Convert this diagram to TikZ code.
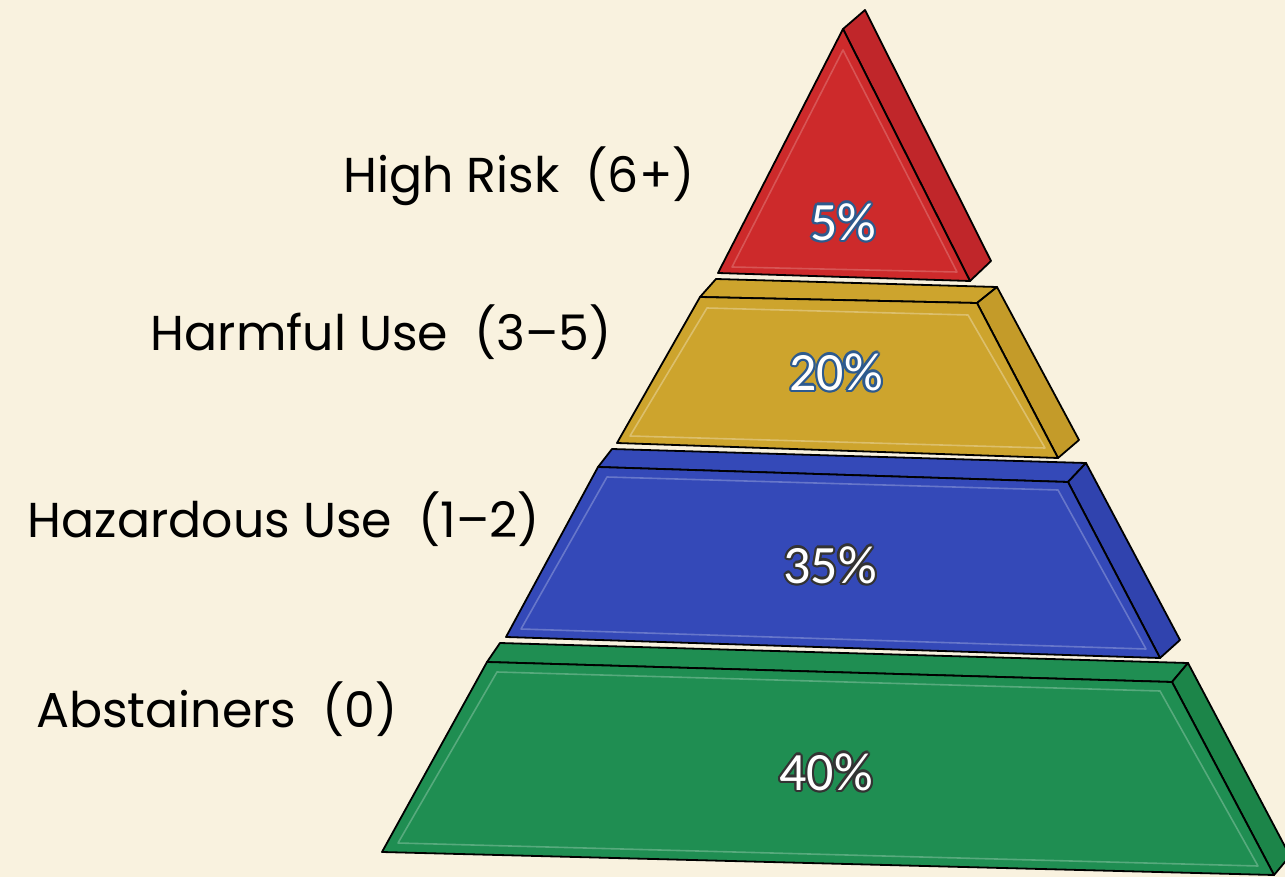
\documentclass[tikz,border=0pt]{standalone}
\usepackage{fontspec}
\setmainfont{Poppins}
\newfontfamily\pctfont{Carlito}
\usetikzlibrary{calc}
\definecolor{colour_bg}{HTML}{F9F2DF}
\definecolor{colour_red}{HTML}{CD2A2B}
\definecolor{colour_redside}{HTML}{C0262A}
\definecolor{colour_yellow}{HTML}{CDA42D}
\definecolor{colour_yellowside}{HTML}{C49B29}
\definecolor{colour_blue}{HTML}{3449B8}
\definecolor{colour_blueside}{HTML}{3043AE}
\definecolor{colour_green}{HTML}{1F8E52}
\definecolor{colour_greenside}{HTML}{1C8549}
\definecolor{colour_outline}{HTML}{2D5A8E}

\begin{document}
\begin{tikzpicture}[
    x=1pt, y=-1pt,
    face/.style={draw=black, line width=1.8pt, line join=round},
    bevel/.style={line width=1.6pt, line join=round},
    tierlabel/.style={anchor=base east, inner sep=0pt,
                      font=\fontsize{49}{49}\selectfont},
    pct/.style={inner sep=0pt, font=\pctfont\fontsize{54}{54}\selectfont}
]

% Background
\fill[colour_bg] (0,0) rectangle (1285,877);
\useasboundingbox (0,0) rectangle (1285,877);
\clip (0,0) rectangle (1285,877);

% Abstainers tier
\filldraw[face, fill=colour_green] (487,662) -- (500,643) -- (1188,663) -- (1172,682) -- cycle;
\filldraw[face, fill=colour_greenside] (1172,682) -- (1188,663) -- (1290,856) -- (1274,875) -- cycle;
\filldraw[face, fill=colour_green] (487,662) -- (1172,682) -- (1274,875) -- (382,852) -- cycle;
\draw[bevel, colour_green!75!white] (497,672) -- (1160,691) -- (1258,866) -- (398,843) -- cycle;

% Hazardous use tier
\filldraw[face, fill=colour_blue] (598,467) -- (612,449) -- (1086,463) -- (1068,482) -- cycle;
\filldraw[face, fill=colour_blueside] (1068,482) -- (1086,463) -- (1180,640) -- (1160,658) -- cycle;
\filldraw[face, fill=colour_blue] (598,467) -- (1068,482) -- (1160,658) -- (506,637) -- cycle;
\draw[bevel, colour_blue!75!white] (607,477) -- (1058,490) -- (1146,649) -- (521,629) -- cycle;

% Harmful use tier
\filldraw[face, fill=colour_yellow] (700,297) -- (716,279) -- (997,287) -- (977,303) -- cycle;
\filldraw[face, fill=colour_yellowside] (977,303) -- (997,287) -- (1079,440) -- (1058,458) -- cycle;
\filldraw[face, fill=colour_yellow] (700,297) -- (977,303) -- (1058,458) -- (617,443) -- cycle;
\draw[bevel, colour_yellow!70!white] (707,308) -- (968,315) -- (1045,448) -- (630,436) -- cycle;

% High risk tier
\filldraw[face, fill=colour_redside] (843,29) -- (865,10) -- (991,261) -- (970,281) -- cycle;
\filldraw[face, fill=colour_red] (843,29) -- (970,281) -- (718,273) -- cycle;
\draw[bevel, colour_red!80!white] (843,50) -- (957,272) -- (732,267) -- cycle;

% Percentages
\foreach \txt/\px/\py/\ol in {5\%/843/222/colour_outline, 20\%/836/372/colour_outline,
                               35\%/830/565/black!80, 40\%/826/772/black!80}{
  \foreach \a in {0,30,...,330}
    \node[pct, text=\ol] at ($(\px,\py)+(\a:2.2)$) {\txt};
  \node[pct, text=white] at (\px,\py) {\txt};
}

% Labels
\node[tierlabel] (high) at (695,193) {High Risk\ \ (6+)};
\node[tierlabel] (harmful) at (612,350) {Harmful Use\ \ (3--5)};
\node[tierlabel] (hazardous) at (540,537) {Hazardous Use\ \ (1--2)};
\node[tierlabel] (abstain) at (398,727) {Abstainers\ \ (0)};

\end{tikzpicture}
\end{document}
